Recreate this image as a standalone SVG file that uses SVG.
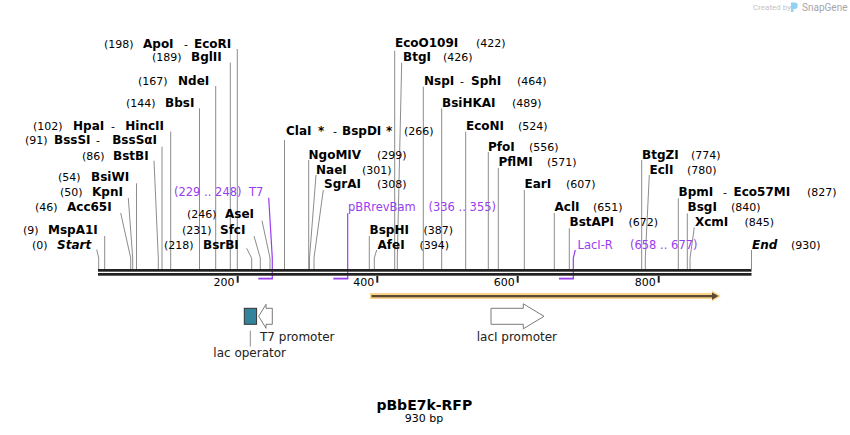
<svg xmlns="http://www.w3.org/2000/svg" width="850" height="435" viewBox="0 0 850 435">
<style>
text{font-family:"DejaVu Sans","Liberation Sans",sans-serif}
.e{font-weight:bold;font-size:12px;fill:#000}
.m{font-size:11px;fill:#000}
.d{font-size:11px;fill:#000}
.pu{font-size:11.5px;fill:#9a3cf0}
.ln{stroke:#8c8c8c;stroke-width:1;fill:none}
.pl{stroke:#9a3cf0;stroke-width:1.2;fill:none}
.pb{stroke:#9a3cf0;stroke-width:1.8;fill:none}
.tk{font-size:11px;fill:#000}
.ft{font-size:12px;fill:#222}
.arr{fill:#fff;stroke:#7a7a7a;stroke-width:1}
</style>
<rect width="850" height="435" fill="#fff"/>

<!-- watermark -->
<g id="watermark">
<text x="753" y="9.5" style="font-family:Roboto,sans-serif;font-size:8px;fill:#c4c4c4">Created by</text>
<path d="M791,2.5 h3.5 a3.2,3.2 0 0 1 0,6.4 h-1 v3 h-2.5 z" fill="#8fd2f2"/>
<text x="802" y="10.5" style="font-family:Roboto,sans-serif;font-size:10px;fill:#a6a6a6">SnapGene</text>
</g>

<!-- connectors -->
<g id="connectors">
<polyline class="ln" points="237.3,49 237.3,269"/>
<polyline class="ln" points="230.3,62.7 230.3,269"/>
<polyline class="ln" points="215.7,86 215.7,269"/>
<polyline class="ln" points="199.5,108.3 199.5,269"/>
<polyline class="ln" points="170.7,131.7 170.7,269"/>
<polyline class="ln" points="162,146.7 162,269"/>
<polyline class="ln" points="154,160.7 158.3,258 158.3,269"/>
<polyline class="ln" points="136.5,183.3 136.5,269"/>
<polyline class="ln" points="128.3,198 132.7,258 132.7,269"/>
<polyline class="ln" points="120.7,213 130.7,258 130.7,269"/>
<polyline class="ln" points="104.7,236 104.7,269"/>
<polyline class="ln" points="96.7,249.5 98.7,258 98.7,269"/>
<polyline class="ln" points="246.7,248.3 251.7,258.3 251.7,269"/>
<polyline class="ln" points="254,236 260.3,258 260.3,269"/>
<polyline class="ln" points="262,220.7 270,258 270,269"/>
<polyline class="ln" points="284.5,140 284.5,269"/>
<polyline class="ln" points="308.7,160 308.7,269"/>
<polyline class="ln" points="316,175 309.5,258 309.5,269"/>
<polyline class="ln" points="323.3,190 314,258 314,269"/>
<polyline class="ln" points="369.3,236 369.3,269"/>
<polyline class="ln" points="376.7,250 374.3,258 374.3,269"/>
<polyline class="ln" points="394.7,50.7 394.7,269"/>
<polyline class="ln" points="401.7,62.7 397.3,258 397.3,269"/>
<polyline class="ln" points="423.3,86.7 423.3,269"/>
<polyline class="ln" points="441.7,108.3 441.7,269"/>
<polyline class="ln" points="465.7,131.7 465.7,269"/>
<polyline class="ln" points="488.3,152 488.3,269"/>
<polyline class="ln" points="498.3,168 498.3,269"/>
<polyline class="ln" points="524.3,190 524.3,269"/>
<polyline class="ln" points="554.3,213 554.3,269"/>
<polyline class="ln" points="569.3,228.3 569.3,269"/>
<polyline class="ln" points="641.7,160 641.7,269"/>
<polyline class="ln" points="649.3,175 645.3,258 645.3,269"/>
<polyline class="ln" points="678.3,198.3 678.3,269"/>
<polyline class="ln" points="687.3,213.3 687.3,269"/>
<polyline class="ln" points="694.3,227.3 690,258.3 690,269"/>
<polyline class="ln" points="751.5,250 751.5,269"/>
<!-- primer connectors -->
<polyline class="pl" points="268.7,197.7 272.3,258 272.3,279"/>
<line class="pb" x1="258.3" y1="278.6" x2="272.9" y2="278.6"/>
<polyline class="pl" points="347.7,213.3 347.7,279"/>
<line class="pb" x1="333.3" y1="278.6" x2="348.3" y2="278.6"/>
<polyline class="pl" points="575.3,250 573.3,258 573.3,279"/>
<line class="pb" x1="559" y1="278.6" x2="573.9" y2="278.6"/>
<!-- lac operator leader -->
<line class="ln" x1="250.3" y1="330.7" x2="250.3" y2="346.5"/>
</g>

<!-- backbone and ruler -->
<g id="backbone">
<rect x="98" y="269" width="653.5" height="2.7" fill="#222"/>
<rect x="98" y="273" width="653.5" height="2.7" fill="#222"/>
<rect x="236.7" y="276" width="2" height="6.7" fill="#222"/>
<rect x="376.3" y="276" width="2" height="6.7" fill="#222"/>
<rect x="516.7" y="276" width="2" height="6.7" fill="#222"/>
<rect x="657.7" y="276" width="2" height="6.7" fill="#222"/>
<text class="tk" x="234.5" y="285.5" text-anchor="end">200</text>
<text class="tk" x="374.3" y="285.5" text-anchor="end">400</text>
<text class="tk" x="514.7" y="285.5" text-anchor="end">600</text>
<text class="tk" x="655.7" y="285.5" text-anchor="end">800</text>
</g>

<!-- left-side enzymes -->
<g id="ApoI-EcoRI"><text class="m" x="104" y="48">(198)</text><text class="e" x="143" y="48">ApoI</text><text class="d" x="184" y="48">-</text><text class="e" x="194" y="48">EcoRI</text></g>
<g id="BglII"><text class="m" x="152" y="60.7">(189)</text><text class="e" x="191" y="60.7">BglII</text></g>
<g id="NdeI"><text class="m" x="138" y="84.7">(167)</text><text class="e" x="178" y="84.7">NdeI</text></g>
<g id="BbsI"><text class="m" x="126" y="106.7">(144)</text><text class="e" x="165" y="106.7">BbsI</text></g>
<g id="HpaI-HincII"><text class="m" x="33" y="129.7">(102)</text><text class="e" x="73" y="129.7">HpaI</text><text class="d" x="111" y="129.7">-</text><text class="e" x="164" y="129.7" text-anchor="end">HincII</text></g>
<g id="BssSI-BssSaI"><text class="m" x="25" y="144">(91)</text><text class="e" x="54" y="144">BssSI</text><text class="d" x="96" y="144">-</text><text class="e" x="157" y="144" text-anchor="end">BssSαI</text></g>
<g id="BstBI"><text class="m" x="82" y="159.7">(86)</text><text class="e" x="113" y="159.7">BstBI</text></g>
<g id="BsiWI"><text class="m" x="58" y="180.7">(54)</text><text class="e" x="91" y="180.7">BsiWI</text></g>
<g id="KpnI"><text class="m" x="60" y="196.3">(50)</text><text class="e" x="92" y="196.3">KpnI</text></g>
<g id="Acc65I"><text class="m" x="35" y="211.3">(46)</text><text class="e" x="67" y="211.3">Acc65I</text></g>
<g id="MspA1I"><text class="m" x="23" y="234">(9)</text><text class="e" x="48" y="234">MspA1I</text></g>
<g id="Start"><text class="m" x="32" y="249">(0)</text><text class="e" x="57" y="249" font-style="italic">Start</text></g>
<g id="BsrBI"><text class="m" x="164" y="249">(218)</text><text class="e" x="203" y="249">BsrBI</text></g>
<g id="SfcI"><text class="m" x="182" y="234">(231)</text><text class="e" x="220" y="234">SfcI</text></g>
<g id="AseI"><text class="m" x="187" y="218.3">(246)</text><text class="e" x="225" y="218.3">AseI</text></g>
<g id="T7-primer"><text class="pu" x="174" y="195.7">(229 .. 248)</text><text class="pu" x="249" y="195.7">T7</text></g>

<!-- middle enzymes -->
<g id="ClaI-BspDI"><text class="e" x="286" y="134.7">ClaI</text><text class="e" x="318" y="134.7">*</text><text class="d" x="333" y="134.7">-</text><text class="e" x="342" y="134.7">BspDI</text><text class="e" x="386" y="134.7">*</text><text class="m" x="404" y="134.7">(266)</text></g>
<g id="NgoMIV"><text class="e" x="308.5" y="159">NgoMIV</text><text class="m" x="377" y="159">(299)</text></g>
<g id="NaeI"><text class="e" x="316" y="174">NaeI</text><text class="m" x="362" y="174">(301)</text></g>
<g id="SgrAI"><text class="e" x="324" y="188.3">SgrAI</text><text class="m" x="377" y="188.3">(308)</text></g>
<g id="pBRrevBam"><text class="pu" x="348" y="211.3">pBRrevBam</text><text class="pu" x="428.5" y="211.3">(336 .. 355)</text></g>
<g id="BspHI"><text class="e" x="369.5" y="234">BspHI</text><text class="m" x="423.5" y="234">(387)</text></g>
<g id="AfeI"><text class="e" x="377.5" y="249">AfeI</text><text class="m" x="419.5" y="249">(394)</text></g>
<g id="EcoO109I"><text class="e" x="395" y="46.7">EcoO109I</text><text class="m" x="476" y="46.7">(422)</text></g>
<g id="BtgI"><text class="e" x="403" y="60.7">BtgI</text><text class="m" x="443" y="60.7">(426)</text></g>
<g id="NspI-SphI"><text class="e" x="424" y="84.7">NspI</text><text class="d" x="460" y="84.7">-</text><text class="e" x="471" y="84.7">SphI</text><text class="m" x="517" y="84.7">(464)</text></g>
<g id="BsiHKAI"><text class="e" x="442" y="106.7">BsiHKAI</text><text class="m" x="512" y="106.7">(489)</text></g>
<g id="EcoNI"><text class="e" x="466" y="129.7">EcoNI</text><text class="m" x="518" y="129.7">(524)</text></g>
<g id="PfoI"><text class="e" x="488" y="150.7">PfoI</text><text class="m" x="529" y="150.7">(556)</text></g>
<g id="PflMI"><text class="e" x="498.5" y="166.3">PflMI</text><text class="m" x="547" y="166.3">(571)</text></g>
<g id="EarI"><text class="e" x="524.5" y="188.3">EarI</text><text class="m" x="566" y="188.3">(607)</text></g>
<g id="AclI"><text class="e" x="554.5" y="211.3">AclI</text><text class="m" x="593" y="211.3">(651)</text></g>
<g id="BstAPI"><text class="e" x="569.5" y="225.7">BstAPI</text><text class="m" x="628.5" y="225.7">(672)</text></g>
<g id="LacI-R"><text class="pu" x="577.5" y="249">LacI-R</text><text class="pu" x="630" y="249">(658 .. 677)</text></g>

<!-- right enzymes -->
<g id="BtgZI"><text class="e" x="642" y="159">BtgZI</text><text class="m" x="691" y="159">(774)</text></g>
<g id="EclI"><text class="e" x="649.5" y="174">EclI</text><text class="m" x="687" y="174">(780)</text></g>
<g id="BpmI-Eco57MI"><text class="e" x="678.5" y="196.3">BpmI</text><text class="d" x="723" y="196.3">-</text><text class="e" x="733.5" y="196.3">Eco57MI</text><text class="m" x="807" y="196.3">(827)</text></g>
<g id="BsgI"><text class="e" x="687.5" y="211.3">BsgI</text><text class="m" x="731" y="211.3">(840)</text></g>
<g id="XcmI"><text class="e" x="695" y="225.7">XcmI</text><text class="m" x="744.5" y="225.7">(845)</text></g>
<g id="End"><text class="e" x="752" y="249" font-style="italic">End</text><text class="m" x="791" y="249">(930)</text></g>

<!-- features -->
<g id="orange-feature">
<polygon points="370,293 712,293 712,290.5 721,296 712,301.5 712,299 370,299" fill="#fbd38c"/>
<rect x="371.5" y="295" width="342" height="2.3" fill="#5a4a33"/>
<polygon points="712,292.5 718.5,296.1 712,299.7" fill="#5a4a33"/>
</g>
<g id="lac-operator">
<rect x="244.3" y="308.3" width="12.3" height="16" fill="#31849b" stroke="#333" stroke-width="1"/>
<text class="ft" x="213.3" y="357.4">lac operator</text>
</g>
<g id="T7-promoter">
<polygon class="arr" points="258.7,316.3 266,304.3 266,308.3 272.3,308.3 272.3,324.3 266,324.3 266,328.3"/>
<text class="ft" x="260" y="340.5">T7 promoter</text>
</g>
<g id="lacI-promoter">
<polygon class="arr" points="491,308.3 523.3,308.3 523.3,303.8 544,316.3 523.3,328.8 523.3,324.3 491,324.3"/>
<text class="ft" x="476.7" y="340.5">lacI promoter</text>
</g>

<g id="title">
<text x="424.3" y="409.5" text-anchor="middle" style="font-weight:bold;font-size:14px;fill:#000">pBbE7k-RFP</text>
<text x="424" y="421.5" text-anchor="middle" style="font-size:11px;fill:#000">930 bp</text>
</g>
</svg>
